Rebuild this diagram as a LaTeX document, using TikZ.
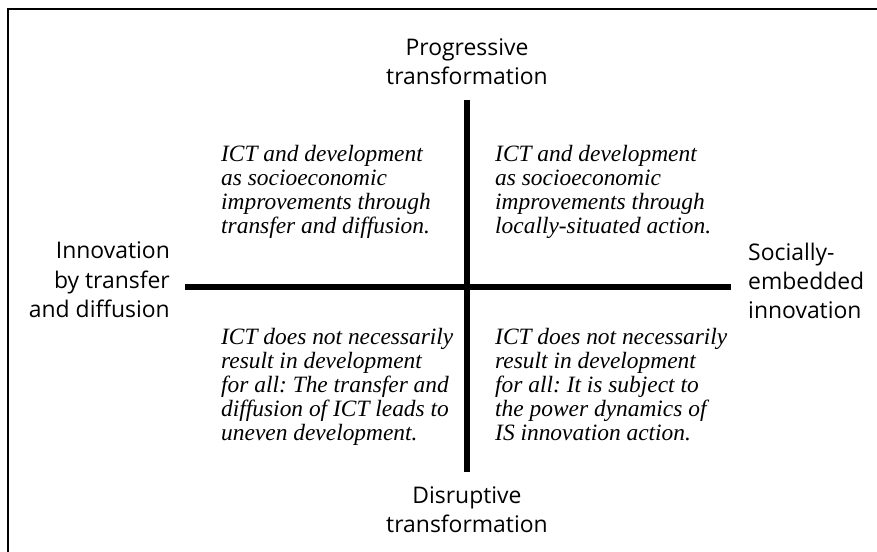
\documentclass[tikz,border=0pt]{standalone}
\usepackage{fontspec}
\setmainfont{Liberation Serif}
\newfontfamily\axfam{Open Sans}
\newcommand{\ax}{\axfam\fontsize{23}{29.5}\selectfont}
\newcommand{\qt}{\itshape\fontsize{23.5}{24}\selectfont}
\frenchspacing

\begin{document}
\begin{tikzpicture}[x=1bp,y=1bp,
   axis/.style={line width=6bp},
   lbl/.style={inner sep=0pt,font=\ax},
   quad/.style={inner sep=0pt,align=left,anchor=north west,font=\qt}]
   \useasboundingbox (0,0) rectangle (877,552);
   \draw[line width=1.2bp] (8,0) -- (8,543) -- (877,543);
   % axes
   \coordinate (top)   at (467,452);
   \coordinate (bot)   at (467, 80);
   \coordinate (left)  at (185,265);
   \coordinate (right) at (731,265);
   \draw[axis] (left) -- (right);
   \draw[axis] (top) -- (bot);
   % axis labels
   \node[lbl,align=center] (prog) at (467,490) {Progressive\\transformation};
   \node[lbl,align=center] (disr) at (467, 42) {Disruptive\\transformation};
   \node[lbl,align=right,anchor=east] (itd) at (170,272)
    {Innovation\\by transfer\\and diffusion};
   \node[lbl,align=left,anchor=west] (sei) at (748,271)
    {Socially-\\embedded\\innovation};
   % quadrants
   \node[quad] (ul) at (221,407) {ICT and development\\as socioeconomic\\improvements through\\transfer and diffusion.};
   \node[quad] (ur) at (495,407) {ICT and development\\as socioeconomic\\improvements through\\locally-situated action.};
   \node[quad] (ll) at (221,224) {ICT does not necessarily\\result in development\\for all: The transfer and\\diffusion of ICT leads to\\uneven development.};
   \node[quad] (lr) at (495,224) {ICT does not necessarily\\result in development\\for all: It is subject to\\the power dynamics of\\IS innovation action.};
\end{tikzpicture}
\end{document}
